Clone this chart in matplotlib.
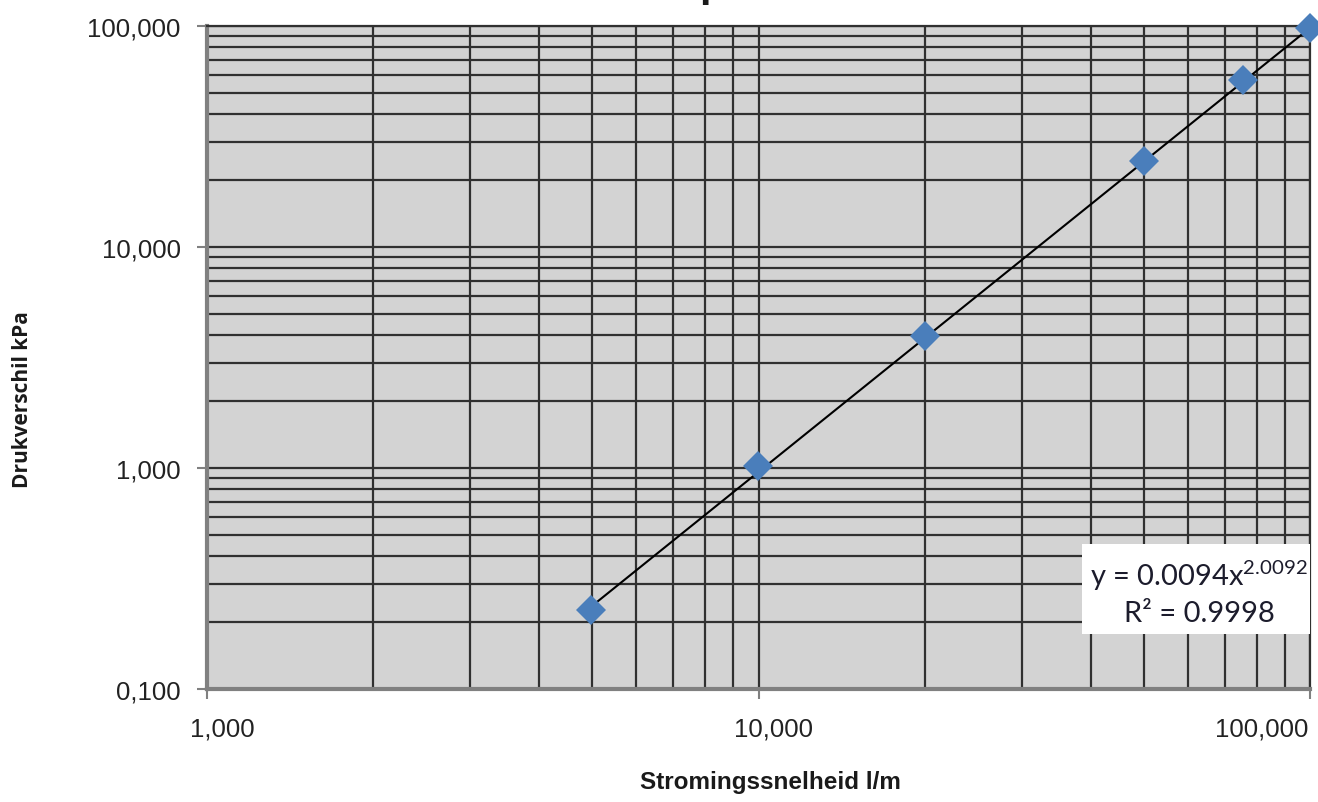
import numpy as np
import matplotlib
matplotlib.use("Agg")
import matplotlib.pyplot as plt
import matplotlib.transforms as mtransforms
from matplotlib.ticker import FixedLocator, FixedFormatter, LogLocator, NullFormatter
from matplotlib.patches import Rectangle

# ---- data ----
flow = [4.97, 9.98, 20.0, 50.0, 75.5, 100.0]       # Stromingssnelheid l/m
pressure = [0.228, 1.02, 3.95, 24.5, 57.0, 98.0]   # Drukverschil kPa
fit_a, fit_b = 0.0094, 2.0092
x_ticks = [1, 10, 100]
x_tick_labels = ["1,000", "10,000", "100,000"]
y_ticks = [0.1, 1, 10, 100]
y_tick_labels = ["0,100", "1,000", "10,000", "100,000"]
eq_text = r"y = 0.0094x$^{\mathrm{2.0092}}$"
r2_text = "R² = 0.9998"
x_label = "Stromingssnelheid l/m"
y_label = "Drukverschil kPa"

plt.rcParams['mathtext.fontset'] = 'custom'
plt.rcParams['mathtext.rm'] = 'Lato'

W, H = 1318, 803
fig = plt.figure(figsize=(W / 100, H / 100), dpi=100)
L, R, T, B = 207, 1310, 27, 690
ax = fig.add_axes([L / W, 1 - B / H, (R - L) / W, (B - T) / H])
ax.set_facecolor('#d3d3d3')
ax.set_xscale('log')
ax.set_yscale('log')
ax.set_xlim(1, 100)
ax.set_ylim(0.1, 100)

ax.xaxis.set_major_locator(FixedLocator(x_ticks))
ax.xaxis.set_major_formatter(FixedFormatter(x_tick_labels))
ax.yaxis.set_major_locator(FixedLocator(y_ticks))
ax.yaxis.set_major_formatter(FixedFormatter(y_tick_labels))
ax.xaxis.set_minor_locator(LogLocator(base=10, subs=np.arange(2, 10)))
ax.yaxis.set_minor_locator(LogLocator(base=10, subs=np.arange(2, 10)))
ax.xaxis.set_minor_formatter(NullFormatter())
ax.yaxis.set_minor_formatter(NullFormatter())

ax.set_axisbelow(True)
ax.grid(True, which='both', color='#303030', linewidth=1.6)
ax.tick_params(which='major', direction='out', length=7, width=1.5, color='#808080',
               labelsize=18.5, labelcolor='#222222')
ax.tick_params(axis='y', which='major', pad=12)
ax.tick_params(axis='x', which='major', pad=13)
ax.tick_params(which='minor', length=0)
for lab in ax.get_xticklabels() + ax.get_yticklabels():
    lab.set_fontfamily('Liberation Sans')

# x tick labels: shifted right as in the reference, last one kept inside
xlabs = ax.get_xticklabels()
shift = mtransforms.ScaledTranslation(15 / 100, 0, fig.dpi_scale_trans)
for lab in xlabs[:-1]:
    lab.set_transform(lab.get_transform() + shift)
xlabs[-1].set_horizontalalignment('right')
shift2 = mtransforms.ScaledTranslation(-2 / 100, 0, fig.dpi_scale_trans)
xlabs[-1].set_transform(xlabs[-1].get_transform() + shift2)

for s in ['left', 'bottom']:
    ax.spines[s].set_color('#808080')
    ax.spines[s].set_linewidth(3)
for s in ['top', 'right']:
    ax.spines[s].set_color('#303030')
    ax.spines[s].set_linewidth(1.6)

# trendline
xf = np.logspace(np.log10(flow[0]), np.log10(flow[-1]), 200)
ax.plot(xf, fit_a * xf ** fit_b, color='black', linewidth=1.5, zorder=3)
# points
ax.plot(flow, pressure, linestyle='none', marker='D', markersize=15,
        color='#4a7ebb', markeredgewidth=0, zorder=4, clip_on=False)

# equation box
bx0 = (1082 - L) / (R - L)
by0 = (B - 635) / (B - T)
by1 = (B - 545) / (B - T)
ax.add_patch(Rectangle((bx0, by0), 1 - bx0, by1 - by0, transform=ax.transAxes,
                       facecolor='white', edgecolor='none', zorder=5))
ax.text((1199 - L) / (R - L), (B - 576) / (B - T), eq_text, transform=ax.transAxes,
        ha='center', va='center', fontsize=21, family='Lato', color='#1c1c2c', zorder=6)
ax.text((1199 - L) / (R - L), (B - 614) / (B - T), r2_text, transform=ax.transAxes,
        ha='center', va='center', fontsize=21, family='Lato', color='#1c1c2c', zorder=6)

# axis labels
fig.text(770 / W, 1 - 783 / H, x_label, ha='center', va='center', fontsize=17.5,
         fontweight='bold', family='Liberation Sans', color='#1a1a1a')
fig.text(23 / W, 1 - 400 / H, y_label, ha='center', va='center', rotation=90,
         fontsize=15, fontweight='bold', family='Open Sans', color='#1a1a1a')

# title (mostly cut off at the top of the picture)
fig.text(712 / W, 1 + 4 / H, "p", ha='center', va='baseline', fontsize=30,
         fontweight='bold', family='Liberation Sans', color='#1a1a1a')

fig.savefig('out.png', dpi=100)
